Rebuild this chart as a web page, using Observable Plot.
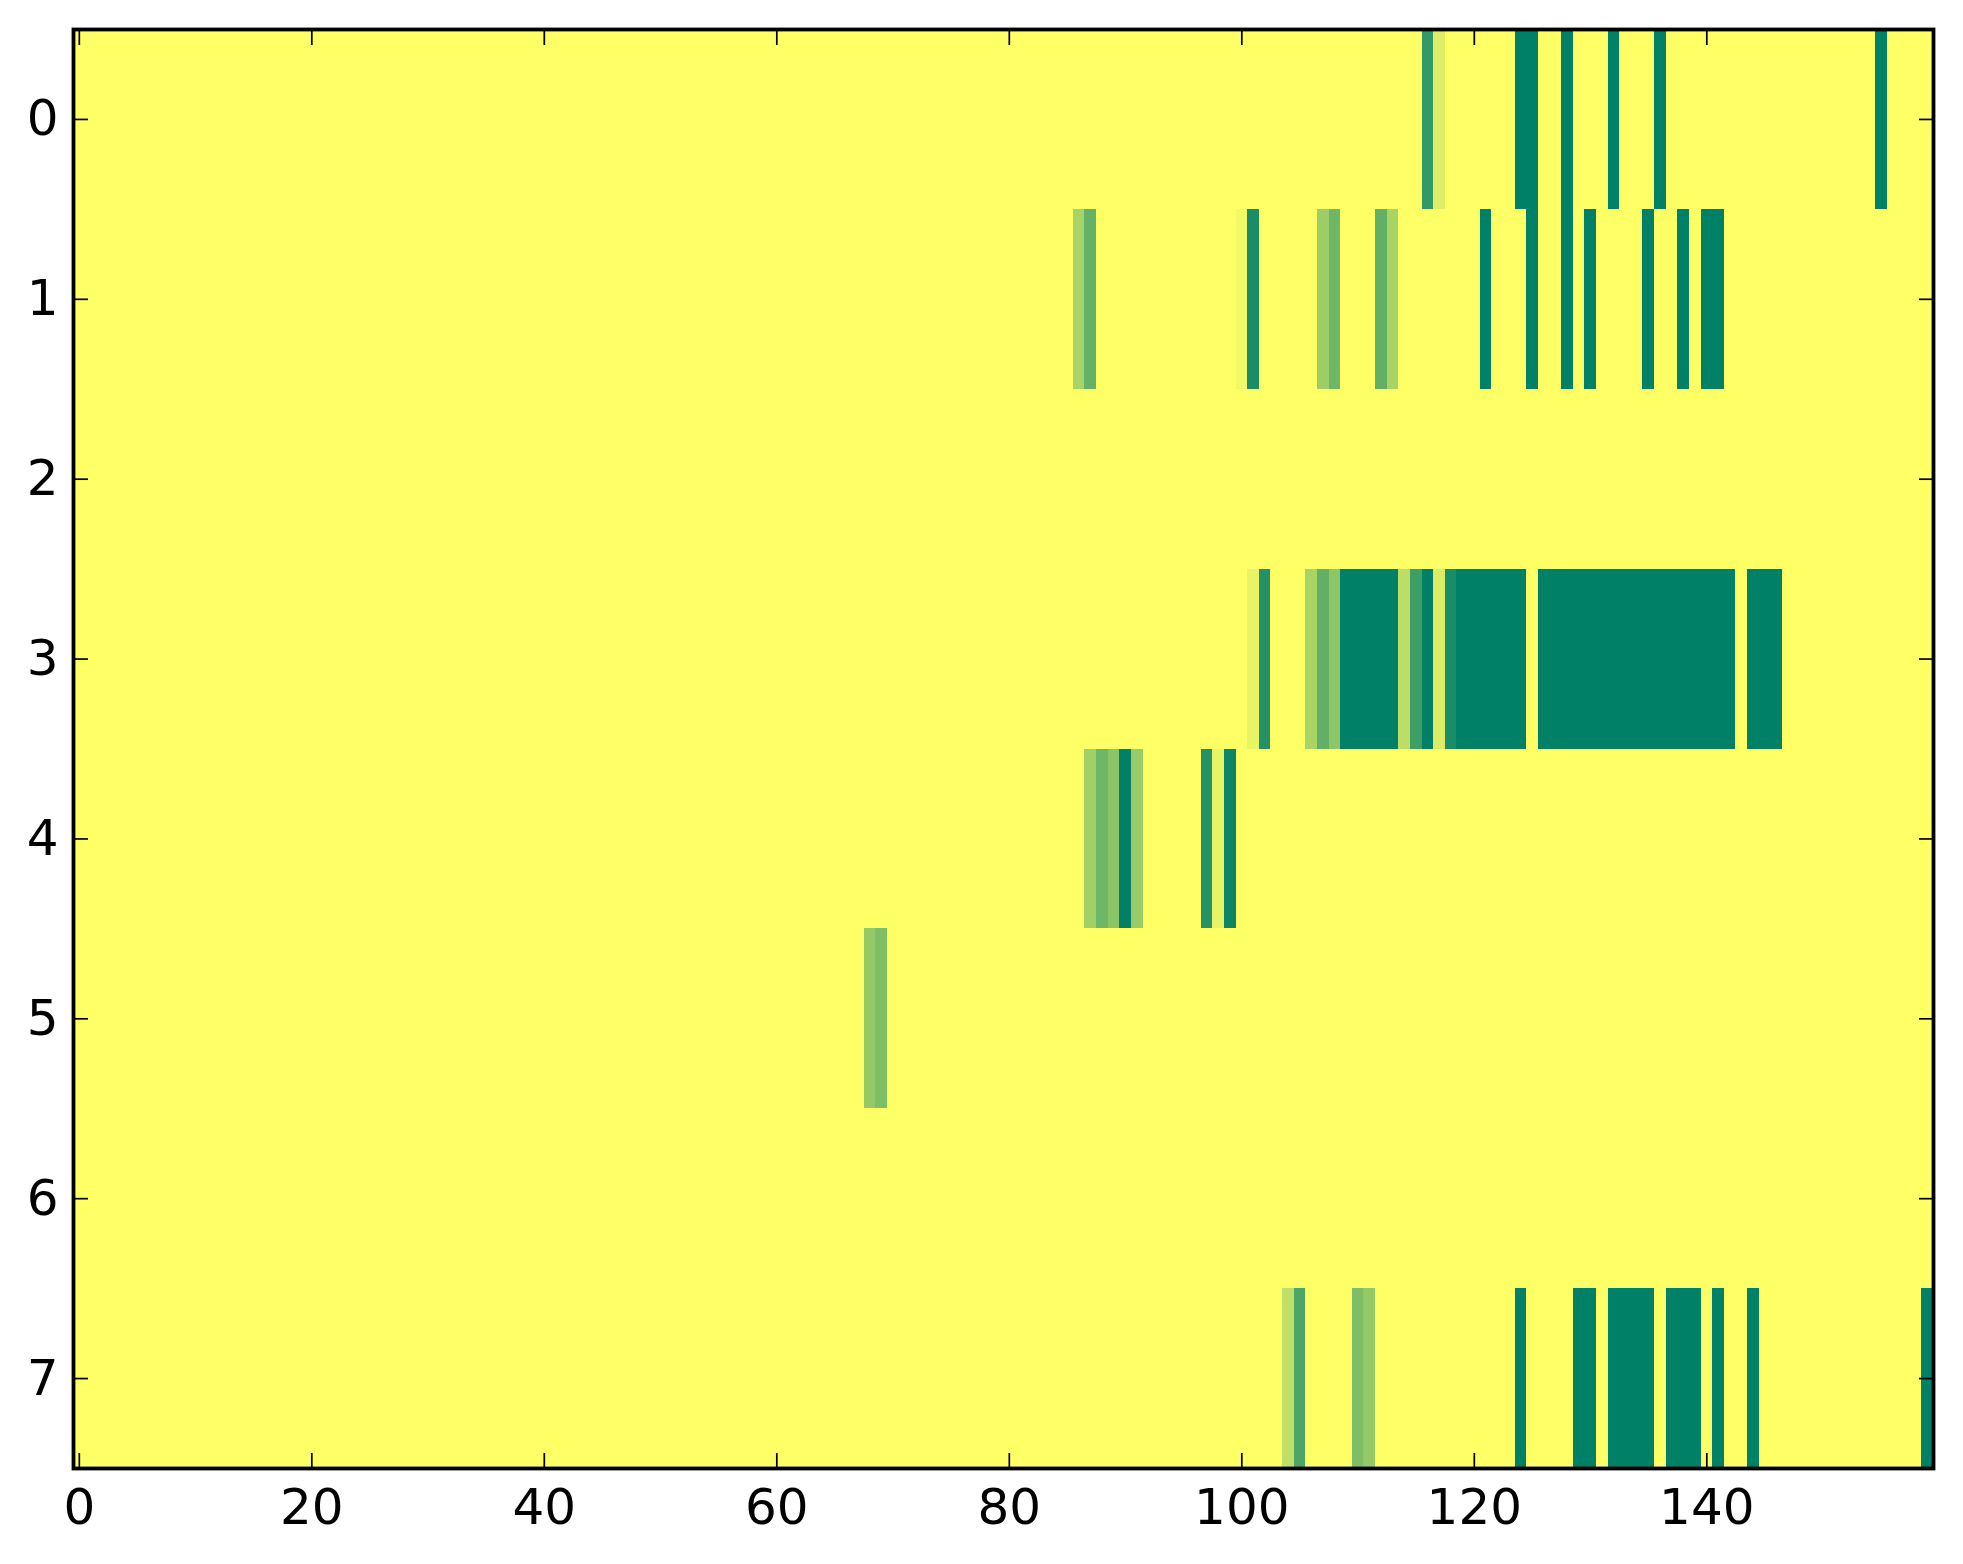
<!DOCTYPE html>
<html>
<head>
<meta charset="utf-8">
<script src="https://cdn.jsdelivr.net/npm/d3@7"></script>
<script src="https://cdn.jsdelivr.net/npm/@observablehq/plot@0.6"></script>
<style>
  body { margin: 0; background: white; }
</style>
</head>
<body>
<div id="chart"></div>
<script>
const nCols = 160;
const rows = [0, 1, 2, 3, 4, 5, 6, 7];
const xTicks = [0, 20, 40, 60, 80, 100, 120, 140];

// runs per row: [first column, last column, value]; everything else is 0
const row0 = [[116,116,0.8],[117,117,0.13],[124,125,1],[128,128,1],[132,132,1],[136,136,1],[155,155,1]];
const row1 = [[86,86,0.34],[87,87,0.61],[100,100,0.05],[101,101,0.9],[107,107,0.39],[108,108,0.57],
  [112,112,0.62],[113,113,0.34],[121,121,1],[125,125,1],[128,128,1],[130,130,1],[135,135,1],[138,138,1],[140,141,1]];
const row2 = [];
const row3 = [[101,101,0.09],[102,102,0.86],[106,106,0.34],[107,107,0.62],[108,108,0.45],[109,113,1],
  [114,114,0.26],[115,115,0.76],[116,116,1],[117,117,0.14],[118,118,0.9],[119,124,1],[126,142,1],[144,146,1]];
const row4 = [[87,87,0.37],[88,88,0.57],[89,89,0.46],[90,90,1],[91,91,0.4],[97,97,0.86],[98,98,0.09],[99,99,0.95]];
const row5 = [[68,68,0.42],[69,69,0.51]];
const row6 = [];
const row7 = [[104,104,0.25],[105,105,0.7],[110,110,0.51],[111,111,0.42],[124,124,1],[129,130,1],
  [132,135,1],[137,139,1],[141,141,1],[144,144,1],[159,159,1]];
const rowRuns = [row0, row1, row2, row3, row4, row5, row6, row7];

const cells = [];
rows.forEach((r) => {
  for (let c = 0; c < nCols; c++) cells.push({row: r, col: c, v: 0});
  rowRuns[r].forEach(([a, b, v]) => {
    for (let c = a; c <= b; c++) cells[r * nCols + c].v = v;
  });
});

const chart = Plot.plot({
  width: 1963,
  height: 1564,
  marginLeft: 73,
  marginRight: 30,
  marginTop: 29,
  marginBottom: 96,
  x: {domain: [-0.5, nCols - 0.5], label: null},
  y: {domain: [rows.length - 0.5, -0.5], label: null},
  color: {type: "linear", domain: [0, 1], range: ["#ffff66", "#008066"], interpolate: "rgb"},
  style: {fontFamily: "DejaVu Sans", fontSize: "50px", background: "white", color: "black"},
  marks: [
    Plot.rect(cells, {
      x1: (d) => d.col - 0.5,
      x2: (d) => d.col + 0.5,
      y1: (d) => d.row - 0.5,
      y2: (d) => d.row + 0.5,
      fill: "v",
      shapeRendering: "crispEdges"
    }),
    // inward ticks on all four sides
    Plot.axisX(xTicks, {anchor: "bottom", tickSize: -15, strokeWidth: 1.7, tickFormat: () => "", label: null}),
    Plot.axisX(xTicks, {anchor: "top", tickSize: -15, strokeWidth: 1.7, tickFormat: () => "", label: null}),
    Plot.axisY(rows, {anchor: "left", tickSize: -15, strokeWidth: 1.7, tickFormat: () => "", label: null}),
    Plot.axisY(rows, {anchor: "right", tickSize: -15, strokeWidth: 1.7, tickFormat: () => "", label: null}),
    Plot.frame({stroke: "black", strokeWidth: 3.8}),
    // labels
    Plot.axisX(xTicks, {anchor: "bottom", tickSize: 0, tickPadding: 20, tickFormat: "d", label: null}),
    Plot.axisY(rows, {anchor: "left", tickSize: 0, tickPadding: 15, tickFormat: "d", label: null})
  ]
});

document.querySelector("#chart").append(chart);
</script>
</body>
</html>
